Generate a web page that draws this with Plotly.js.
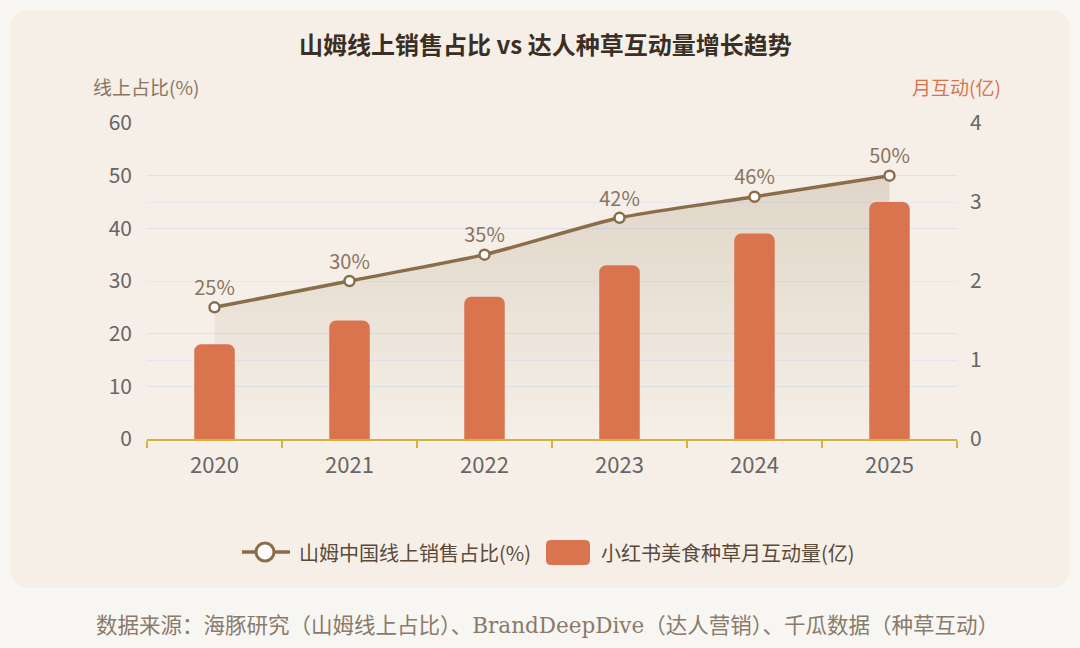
<!DOCTYPE html>
<html><head><meta charset="utf-8">
<script src="https://cdn.plot.ly/plotly-3.0.1.min.js"></script>
<style>html,body{margin:0;padding:0;background:#f8f6f2;}#c{width:1080px;height:648px;}</style>
</head><body><div id="c"></div>
<script>
const years = ['2020','2021','2022','2023','2024','2025'];
const onlineShare = [25, 30, 35, 42, 46, 50];
const interactions = [1.2, 1.5, 1.8, 2.2, 2.6, 3.0];
const shareLabels = ['25%','30%','35%','42%','46%','50%'];
const lineName = '山姆中国线上销售占比(%)';
const barName = '小红书美食种草月互动量(亿)';

const L=147, R=957, T=123, B=439;
const px = x => (x-L)/(R-L);
const py = y => (B-y)/(B-T);
function roundRect(x0,y0,x1,y1,r){
  const f=(x,y)=>px(x)+','+py(y);
  return 'M'+f(x0+r,y0)+' L'+f(x1-r,y0)+' Q'+f(x1,y0)+' '+f(x1,y0+r)+' L'+f(x1,y1-r)+' Q'+f(x1,y1)+' '+f(x1-r,y1)+
    ' L'+f(x0+r,y1)+' Q'+f(x0,y1)+' '+f(x0,y1-r)+' L'+f(x0,y0+r)+' Q'+f(x0,y0)+' '+f(x0+r,y0)+' Z';
}
const font = '"Noto Sans CJK SC", "Noto Sans", sans-serif';
const lineColor = '#8b6d4a', barColor = '#d9744f';

const traces = [
  {type:'bar', x:years, y:interactions, yaxis:'y2', name:barName, width:0.3,
   marker:{color:barColor, cornerradius:7}, hoverinfo:'skip', showlegend:false},
  {type:'scatter', mode:'lines+markers+text', x:years, y:onlineShare, name:lineName,
   line:{color:lineColor, width:3.5, shape:'spline', smoothing:0.6},
   marker:{size:10, color:'#ffffff', line:{color:lineColor, width:2.5}},
   text:shareLabels, textposition:'top center', textfont:{size:20, color:'#8a7560', family:font},
   fill:'tozeroy',
   fillgradient:{type:'vertical', colorscale:[[0,'rgba(139,109,74,0.0)'],[1,'rgba(139,109,74,0.2)']]},
   hoverinfo:'skip', showlegend:false}
];

const layout = {
  width:1080, height:648,
  paper_bgcolor:'#f8f6f2', plot_bgcolor:'rgba(0,0,0,0)',
  margin:{l:L, r:1080-R, t:T, b:648-B},
  font:{family:font, color:'#666'},
  title:{text:'<b>山姆线上销售占比 vs 达人种草互动量增长趋势</b>', x:0.505, xanchor:'center', y:0.93, yanchor:'middle',
         font:{size:24, color:'#3a2e25', family:font}},
  showlegend:false,
  xaxis:{type:'category', showgrid:false, showline:true, linecolor:'#d4b43a', linewidth:1.5,
         ticks:'outside', tickcolor:'#d4b43a', ticklen:7, tickwidth:1.5, tickson:'boundaries',
         tickfont:{size:22, color:'#666'}, ticklabelstandoff:6, fixedrange:true},
  yaxis:{range:[0,60], dtick:10, showgrid:true, gridcolor:'#dde2ee', gridwidth:1, zeroline:false,
         showline:false, tickfont:{size:21, color:'#666'}, ticklabelstandoff:14},
  yaxis2:{range:[0,4], dtick:1, overlaying:'y', side:'right', showgrid:true, gridcolor:'#e4e7ef',
          zeroline:false, showline:false, tickfont:{size:21, color:'#666'}, ticklabelstandoff:12},
  shapes:[
    {type:'path', xref:'paper', yref:'paper', path:roundRect(10,10,1070,588,22),
     fillcolor:'#f5efe7', line:{width:0}, layer:'below'},
    {type:'line', xref:'paper', yref:'paper', x0:px(242), x1:px(290), y0:py(552), y1:py(552),
     line:{color:lineColor, width:3.5}},
    {type:'circle', xref:'paper', yref:'paper', x0:px(256), x1:px(274), y0:py(543), y1:py(561),
     fillcolor:'#ffffff', line:{color:lineColor, width:3}},
    {type:'path', xref:'paper', yref:'paper', path:roundRect(546,540,590,565,5),
     fillcolor:barColor, line:{width:0}}
  ],
  annotations:[
    {xref:'paper', yref:'paper', x:px(297), y:py(552), xanchor:'left', yanchor:'middle', showarrow:false,
     text:lineName, font:{size:20, color:'#5a4a3a', family:font}},
    {xref:'paper', yref:'paper', x:px(599), y:py(552), xanchor:'left', yanchor:'middle', showarrow:false,
     text:barName, font:{size:20, color:'#5a4a3a', family:font}},
    {xref:'paper', yref:'paper', x:px(91), y:py(86), xanchor:'left', yanchor:'middle', showarrow:false,
     text:'线上占比(%)', font:{size:19, color:'#8a7560', family:font}},
    {xref:'paper', yref:'paper', x:px(1003), y:py(86), xanchor:'right', yanchor:'middle', showarrow:false,
     text:'月互动(亿)', font:{size:19, color:barColor, family:font}},
    {xref:'paper', yref:'paper', x:px(94), y:py(625), xanchor:'left', yanchor:'middle', showarrow:false,
     text:'数据来源：海豚研究（山姆线上占比）、BrandDeepDive（达人营销）、千瓜数据（种草互动）',
     font:{size:21.5, color:'#8a7a6a', family:'"DejaVu Serif", "Liberation Serif", "Noto Sans CJK SC", serif'}}
  ]
};
Plotly.newPlot('c', traces, layout, {displayModeBar:false, staticPlot:true});
</script></body></html>
